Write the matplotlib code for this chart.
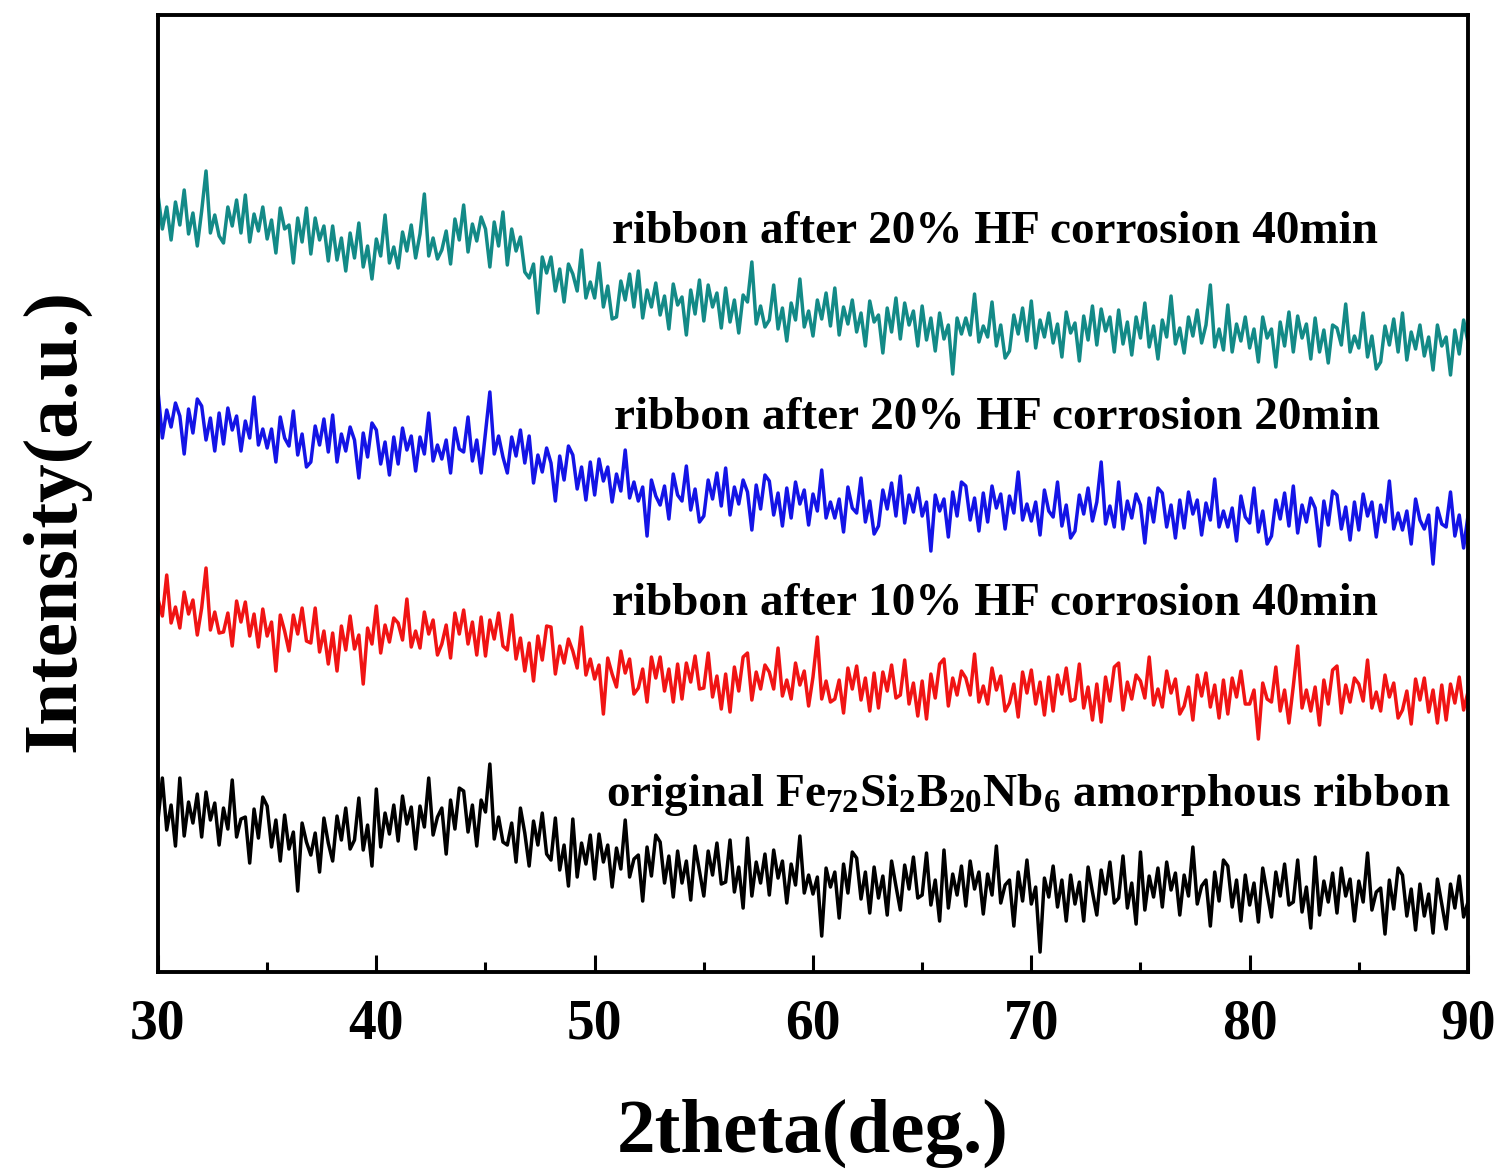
import numpy as np
import matplotlib
matplotlib.use('Agg')
import matplotlib.pyplot as plt

plt.rcParams['font.family'] = 'Liberation Serif'
plt.rcParams['font.weight'] = 'bold'
plt.rcParams['mathtext.fontset'] = 'custom'
plt.rcParams['mathtext.rm'] = 'Liberation Serif:bold'
plt.rcParams['mathtext.default'] = 'rm'

# XRD scans, 2theta 30-90 deg in 0.2 deg steps (intensity, a.u.)
teal_40min_20 = [
    187, 153, 175, 142, 180, 157, 192, 148, 169, 136, 171, 211, 149, 167, 146,
    139, 175, 156, 182, 149, 187, 140, 168, 151, 175, 143, 162, 129, 174, 153,
    157, 119, 164, 140, 174, 128, 164, 142, 156, 121, 156, 122, 144, 111, 149,
    124, 159, 115, 136, 103, 143, 126, 167, 119, 135, 114, 150, 131, 157, 124,
    148, 188, 126, 144, 123, 132, 151, 118, 163, 142, 177, 130, 158, 141, 165,
    153, 115, 160, 136, 170, 117, 153, 131, 145, 110, 104, 118, 69, 125, 109,
    125, 91, 113, 80, 118, 108, 91, 132, 84, 100, 84, 119, 75, 96, 63,
    65, 101, 82, 108, 75, 111, 64, 92, 75, 99, 67, 86, 53, 98, 77,
    85, 47, 92, 68, 102, 61, 97, 75, 89, 54, 94, 60, 82, 49, 87,
    80, 120, 58, 76, 55, 62, 97, 53, 74, 41, 79, 62, 103, 55, 71,
    46, 82, 63, 89, 56, 94, 47, 75, 58, 82, 50, 69, 36, 81, 60,
    67, 29, 74, 50, 84, 43, 79, 57, 71, 36, 76, 42, 64, 31, 69,
    43, 57, 8, 64, 48, 64, 47, 88, 40, 56, 45, 80, 36, 57, 24,
    31, 67, 48, 74, 41, 81, 34, 62, 45, 69, 39, 58, 25, 70, 49,
    59, 21, 66, 42, 76, 37, 73, 51, 65, 30, 72, 38, 60, 27, 65,
    44, 79, 35, 56, 23, 62, 45, 86, 38, 54, 29, 65, 46, 72, 39,
    57, 97, 35, 53, 32, 77, 30, 58, 41, 65, 34, 53, 20, 65, 44,
    53, 15, 60, 36, 70, 30, 66, 44, 58, 23, 64, 30, 52, 19, 57,
    54, 37, 78, 30, 46, 34, 69, 25, 46, 13, 20, 56, 37, 63, 30,
    69, 22, 50, 33, 57, 26, 45, 12, 57, 36, 45, 7, 52, 28, 62,
    40]

blue_20min_20 = [
    191, 144, 172, 155, 179, 166, 128, 173, 149, 183, 176, 142, 164, 131, 169,
    138, 174, 152, 166, 131, 161, 144, 185, 137, 153, 134, 153, 120, 165, 144,
    136, 171, 127, 148, 115, 120, 156, 137, 163, 130, 167, 120, 148, 131, 155,
    142, 104, 149, 125, 159, 152, 118, 140, 107, 145, 118, 154, 132, 146, 111,
    145, 128, 169, 121, 137, 123, 142, 109, 154, 133, 130, 165, 121, 142, 109,
    150, 190, 128, 146, 125, 109, 145, 126, 152, 119, 146, 99, 127, 110, 134,
    119, 81, 126, 102, 136, 127, 93, 115, 82, 120, 87, 123, 101, 115, 80,
    108, 91, 132, 84, 100, 81, 95, 46, 102, 86, 77, 96, 63, 108, 87,
    81, 116, 72, 93, 60, 66, 102, 83, 109, 76, 114, 67, 95, 78, 102,
    90, 52, 97, 73, 107, 101, 67, 89, 56, 94, 64, 100, 78, 92, 57,
    88, 71, 112, 64, 80, 64, 83, 50, 95, 74, 69, 104, 60, 81, 48,
    56, 92, 73, 99, 66, 106, 59, 87, 70, 94, 66, 80, 31, 87, 71,
    83, 45, 90, 66, 100, 96, 62, 84, 51, 89, 60, 96, 74, 88, 53,
    86, 69, 110, 62, 78, 61, 80, 47, 92, 71, 65, 100, 56, 77, 44,
    51, 87, 68, 94, 61, 80, 120, 58, 76, 55, 100, 53, 81, 64, 88,
    77, 39, 84, 60, 94, 89, 55, 77, 44, 82, 54, 90, 68, 82, 47,
    79, 62, 103, 55, 71, 55, 74, 41, 86, 65, 59, 94, 50, 71, 38,
    46, 82, 63, 89, 56, 96, 49, 77, 60, 84, 74, 36, 81, 57, 91,
    87, 53, 75, 42, 80, 52, 88, 66, 80, 45, 77, 60, 101, 53, 69,
    52, 71, 38, 83, 62, 53, 67, 18, 74, 58, 55, 90, 46, 67, 34,
    66]

red_40min_10 = [
    173, 156, 197, 149, 165, 144, 180, 158, 172, 137, 164, 204, 142, 160, 139,
    140, 159, 126, 171, 150, 170, 136, 158, 125, 163, 136, 150, 101, 157, 141,
    121, 157, 138, 164, 131, 129, 164, 120, 141, 108, 139, 101, 146, 122, 156,
    123, 137, 88, 144, 128, 166, 119, 147, 130, 154, 149, 132, 173, 125, 141,
    124, 160, 138, 152, 117, 128, 147, 114, 159, 138, 162, 128, 150, 117, 155,
    116, 152, 133, 159, 126, 122, 157, 113, 134, 101, 129, 91, 136, 112, 146,
    145, 98, 126, 109, 133, 121, 104, 145, 97, 113, 93, 107, 58, 114, 98,
    85, 121, 99, 113, 78, 84, 103, 70, 115, 94, 115, 81, 103, 70, 108,
    73, 109, 90, 116, 83, 84, 119, 75, 96, 63, 98, 60, 105, 81, 115,
    119, 72, 100, 83, 107, 100, 83, 124, 76, 92, 73, 109, 87, 101, 66,
    95, 135, 73, 91, 70, 73, 92, 59, 104, 83, 106, 72, 94, 61, 99,
    64, 100, 81, 107, 74, 77, 112, 68, 89, 56, 91, 53, 98, 74, 108,
    113, 66, 94, 77, 101, 94, 77, 118, 70, 86, 68, 104, 82, 96, 61,
    69, 88, 55, 100, 79, 102, 68, 90, 57, 95, 61, 97, 78, 104, 71,
    73, 108, 64, 85, 52, 88, 50, 95, 71, 105, 109, 62, 90, 73, 97,
    91, 74, 115, 67, 83, 65, 101, 79, 93, 58, 66, 85, 52, 97, 76,
    99, 65, 87, 54, 92, 58, 94, 75, 101, 68, 68, 82, 33, 89, 73,
    70, 105, 61, 82, 49, 86, 126, 64, 82, 61, 85, 47, 92, 68, 102,
    106, 59, 87, 70, 94, 88, 71, 112, 64, 80, 61, 97, 75, 89, 54,
    62, 81, 48, 93, 72, 94, 60, 82, 49, 87, 52, 88, 69, 95, 62,
    80]

black_original = [
    152, 194, 142, 167, 126, 194, 136, 170, 149, 178, 135, 180, 152, 169, 127,
    164, 143, 192, 135, 153, 155, 109, 163, 134, 175, 166, 125, 152, 111, 157,
    123, 140, 81, 149, 130, 117, 139, 100, 154, 129, 111, 156, 132, 164, 123,
    132, 174, 122, 147, 106, 183, 125, 159, 138, 167, 131, 176, 148, 165, 123,
    166, 145, 194, 137, 155, 164, 118, 172, 143, 184, 181, 140, 167, 126, 172,
    160, 208, 133, 155, 130, 127, 149, 110, 164, 139, 106, 151, 127, 159, 118,
    112, 154, 102, 127, 86, 153, 95, 129, 108, 137, 93, 138, 110, 127, 85,
    124, 103, 152, 95, 113, 117, 71, 125, 96, 137, 130, 89, 116, 75, 121,
    89, 111, 72, 126, 101, 76, 121, 97, 129, 88, 90, 132, 80, 105, 64,
    134, 76, 110, 89, 118, 77, 122, 94, 111, 69, 108, 87, 136, 79, 97,
    78, 95, 36, 104, 85, 100, 54, 108, 79, 120, 114, 73, 100, 59, 105,
    74, 96, 57, 111, 86, 62, 107, 83, 115, 74, 77, 119, 67, 92, 51,
    122, 64, 98, 77, 106, 66, 111, 83, 100, 58, 98, 77, 126, 69, 87,
    92, 46, 100, 71, 112, 68, 85, 20, 94, 75, 106, 65, 92, 51, 97,
    68, 90, 51, 105, 80, 57, 102, 78, 110, 69, 74, 116, 64, 89, 48,
    120, 62, 96, 75, 104, 65, 110, 82, 99, 57, 97, 76, 125, 68, 86,
    92, 46, 100, 71, 112, 106, 65, 92, 51, 97, 67, 89, 50, 104, 79,
    55, 100, 76, 108, 67, 70, 112, 60, 85, 44, 115, 57, 91, 70, 99,
    59, 104, 76, 93, 51, 91, 70, 119, 62, 80, 84, 38, 92, 63, 104,
    97, 56, 83, 42, 88, 56, 78, 39, 93, 68, 43, 88, 64, 96, 55,
    70]

series = [
    (black_original, 0, 'black'),
    (red_40min_10, 200, '#f01414'),
    (blue_20min_20, 390, '#1414e6'),
    (teal_40min_20, 590, '#138a87'),
]

fig = plt.figure(figsize=(14.99, 11.71), dpi=100)
ax = fig.add_axes([0.1054, 0.1699, 0.8739, 0.8173])

for vals, offset, color in series:
    x = np.linspace(30, 90, len(vals))
    ax.plot(x, np.array(vals) + offset, color=color, lw=2.5)

ax.set_xlim(30, 90)
ax.set_ylim(0, 957)
ax.set_xticks(np.arange(30, 91, 10))
ax.set_xticks(np.arange(35, 90, 10), minor=True)
ax.set_yticks([])
ax.tick_params(axis='x', which='major', direction='in', length=12, width=2.2,
               labelsize=40, pad=19, top=False)
ax.tick_params(axis='x', which='minor', direction='in', length=7, width=2.2, top=False)
for s in ax.spines.values():
    s.set_linewidth(2.8)

lbl = dict(fontsize=34, fontweight='bold', va='center', ha='left')
ax.text(50.8, 740, 'ribbon after 20% HF corrosion 40min', **lbl)
ax.text(50.9, 554, 'ribbon after 20% HF corrosion 20min', **lbl)
ax.text(50.8, 368, 'ribbon after 10% HF corrosion 40min', **lbl)
ax.text(50.5, 177, 'original Fe$_{72}$Si$_{2}$B$_{20}$Nb$_{6}$ amorphous ribbon', **lbl)

ax.set_xlabel('2theta(deg.)', fontsize=55.5, fontweight='bold', labelpad=35)
ax.set_ylabel('Intensity(a.u.)', fontsize=55.5, fontweight='bold')
ax.yaxis.set_label_coords(-0.052, 0.472)

fig.savefig('out.png', dpi=100)
